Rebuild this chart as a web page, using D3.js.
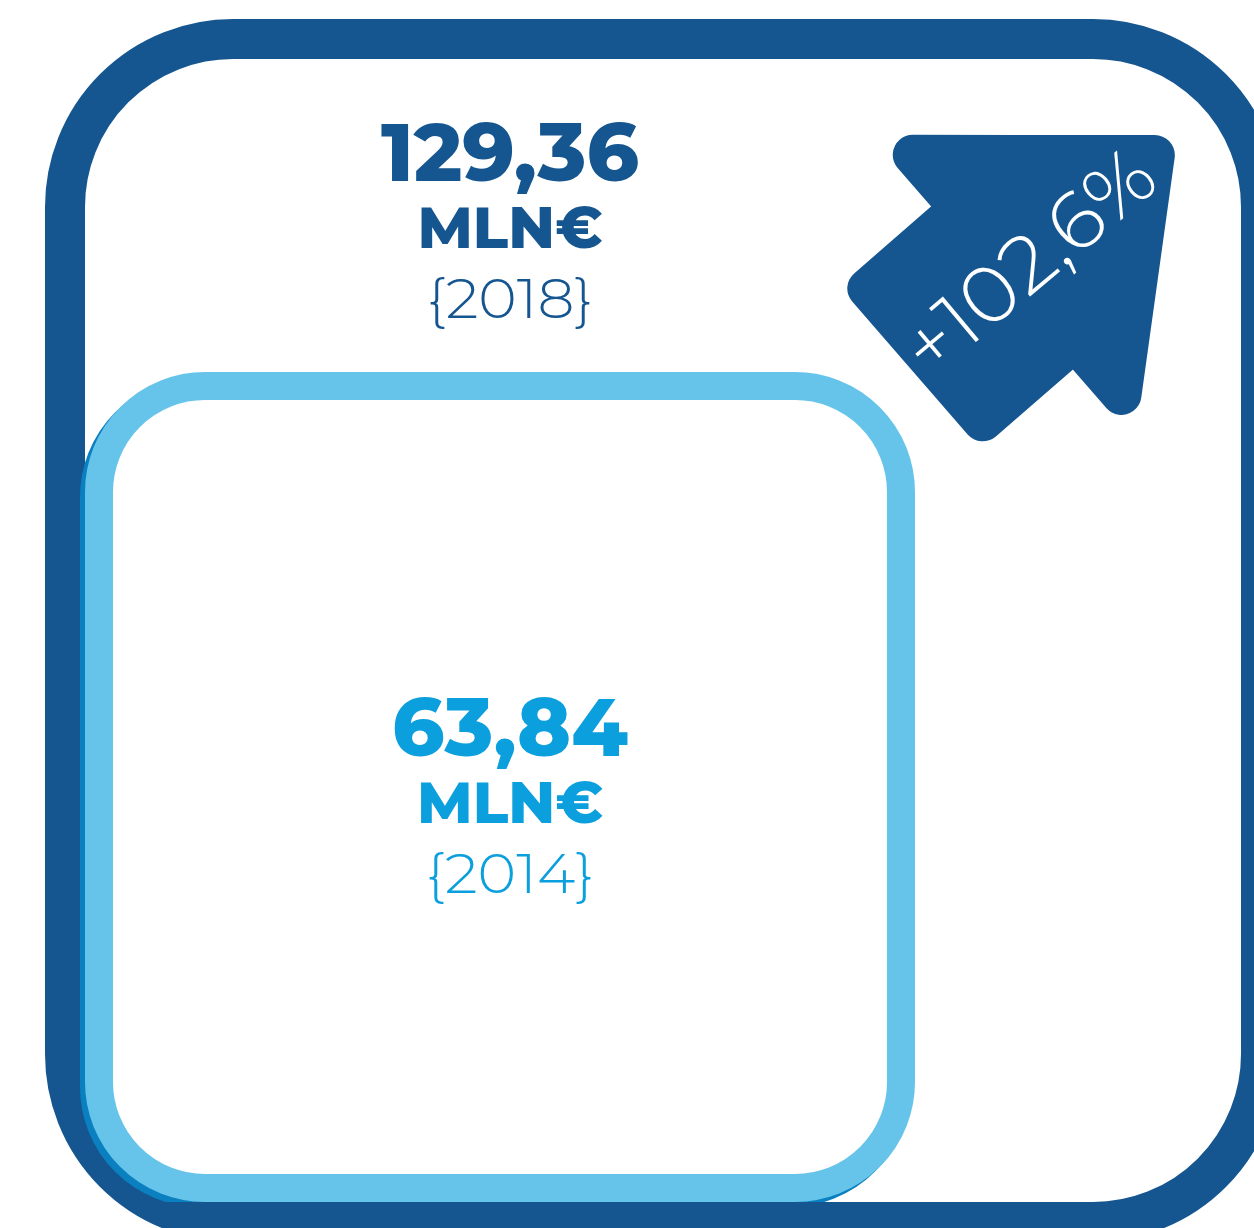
<!DOCTYPE html>
<html>
<head>
<meta charset="utf-8">
<title>Fatturato 2014 - 2018</title>
<script src="https://cdn.jsdelivr.net/npm/d3@7"></script>
<style>
  body { margin: 0; background: #fff; }
  svg  { display: block; }
</style>
</head>
<body>
<svg width="1254" height="1228"></svg>

<script>
// Data
var years       = ["2014", "2018"];
var values      = [63.84, 129.36];        // MLN€
var valueLabels = ["63,84", "129,36"];
var unit        = "MLN€";

// colours
var darkBlue = "#155690", lightBlue = "#66c4ea", shadowBlue = "#0a80c0", cyan = "#0b9fdd";
var fontBold  = "Montserrat, Inter, Lato, sans-serif";

var svg = d3.select("svg");

// box side grows with the value
var sideX = d3.scaleLinear().domain(d3.extent(values)).range([802, 1196]);
var sideY = d3.scaleLinear().domain(d3.extent(values)).range([802, 1183]);

var left = 65, bottom = 1222;            // bottom-left of the big box (stroke centre)
var strokes = [28, 40];
var radius  = [106, 168];
var colors  = [lightBlue, darkBlue];
var inset   = strokes[0] / 2 + strokes[1] / 2;

var boxes = years.map(function(y, i) {
  var off = i === 0 ? inset : 0;
  return {
    year: y, value: values[i], label: valueLabels[i],
    x: left + off,
    y: bottom - off - sideY(values[i]),
    w: sideX(values[i]), h: sideY(values[i]),
    stroke: strokes[i], rx: radius[i], color: colors[i]
  };
});

// big box first, then the small one (with a thin darker shadow to the lower left)
var big = boxes[1], small = boxes[0];

svg.append("rect")
    .attr("x", big.x).attr("y", big.y)
    .attr("width", big.w).attr("height", big.h)
    .attr("rx", big.rx)
    .style("fill", "none")
    .style("stroke", big.color)
    .style("stroke-width", big.stroke);

// shadow must not spill over the big box's bottom border
svg.append("clipPath").attr("id", "inside")
  .append("rect")
    .attr("x", 0).attr("y", 0)
    .attr("width", 1254).attr("height", big.y + big.h - big.stroke / 2);

svg.append("rect")
    .attr("clip-path", "url(#inside)")
    .attr("x", small.x - 5).attr("y", small.y + 5)
    .attr("width", small.w).attr("height", small.h)
    .attr("rx", small.rx)
    .style("fill", "none")
    .style("stroke", shadowBlue)
    .style("stroke-width", small.stroke);

svg.append("rect")
    .attr("x", small.x).attr("y", small.y)
    .attr("width", small.w).attr("height", small.h)
    .attr("rx", small.rx)
    .style("fill", "#fff")
    .style("stroke", small.color)
    .style("stroke-width", small.stroke);

// labels: value, unit, {year}
var textX = 510;
var labelSets = [
  { y: small.y + small.h / 2 - 31, color: cyan,     d: small, widths: [236, 186, 168] },
  { y: 181,                        color: darkBlue, d: big,   widths: [258, 185, 166] }
];

labelSets.forEach(function(s) {
  var g = svg.append("g").style("fill", s.color).attr("text-anchor", "middle");
  g.append("text")
      .attr("x", textX).attr("y", s.y)
      .attr("textLength", s.widths[0]).attr("lengthAdjust", "spacingAndGlyphs")
      .style("font", "800 82px " + fontBold)
      .text(s.d.label);
  g.append("text")
      .attr("x", textX).attr("y", s.y + 67)
      .attr("textLength", s.widths[1]).attr("lengthAdjust", "spacingAndGlyphs")
      .style("font", "800 57px " + fontBold)
      .text(unit);
  g.append("text")
      .attr("x", textX).attr("y", s.y + 137)
      .attr("textLength", s.widths[2]).attr("lengthAdjust", "spacingAndGlyphs")
      .style("font", "300 55px " + fontBold)
      .text("{" + s.d.year + "}");
});

// growth arrow
var growth = values[1] / values[0] - 1;
var growthLabel = "+" + d3.format(".1f")(growth * 100).replace(".", ",") + "%";

// arrow outline in its own frame, pointing along +x
var shaftLen = 122, shaftHalf = 108, headHalf = 203, headLen = 233;
var arrowPts = [
  [headLen, 0], [0, headHalf], [0, shaftHalf], [-shaftLen, shaftHalf],
  [-shaftLen, -shaftHalf], [0, -shaftHalf], [0, -headHalf]
];

// shrink the outline so a round-joined stroke gives rounded corners
function insetPolygon(pts, d) {
  var n = pts.length, lines = [];
  for (var i = 0; i < n; i++) {
    var a = pts[i], b = pts[(i + 1) % n];
    var dx = b[0] - a[0], dy = b[1] - a[1], len = Math.hypot(dx, dy);
    var nx = -dy / len * d, ny = dx / len * d;
    lines.push([[a[0] + nx, a[1] + ny], [dx, dy]]);
  }
  return lines.map(function(l, i) {
    var p = lines[(i + n - 1) % n], q = l;
    var cross = p[1][0] * q[1][1] - p[1][1] * q[1][0];
    var t = ((q[0][0] - p[0][0]) * q[1][1] - (q[0][1] - p[0][1]) * q[1][0]) / cross;
    return [p[0][0] + p[1][0] * t, p[0][1] + p[1][1] * t];
  });
}

var round = 20;
var arrow = svg.append("g").attr("transform", "translate(1002,288) rotate(-41)");
arrow.append("path")
    .attr("d", d3.line()(insetPolygon(arrowPts, round)) + "Z")
    .style("fill", darkBlue)
    .style("stroke", darkBlue)
    .style("stroke-width", round * 2)
    .style("stroke-linejoin", "round");

svg.append("text")
    .attr("transform", "translate(1046,283) rotate(-40)")
    .attr("text-anchor", "middle")
    .attr("textLength", 303).attr("lengthAdjust", "spacingAndGlyphs")
    .style("font", "300 80px " + fontBold)
    .style("fill", "#fff")
    .text(growthLabel);
</script>
</body>
</html>
